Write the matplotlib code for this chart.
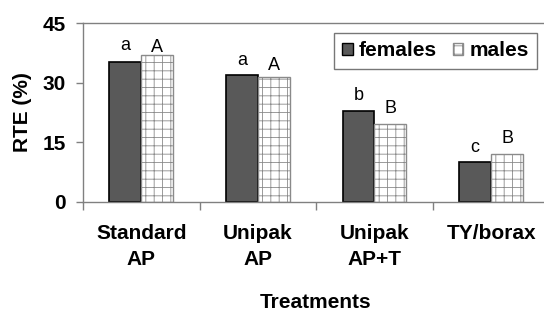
import numpy as np
import matplotlib
matplotlib.use('Agg')
import matplotlib.pyplot as plt
from matplotlib.patches import Patch

plt.rcParams['font.family'] = ['Liberation Sans', 'DejaVu Sans']
plt.rcParams['hatch.linewidth'] = 0.6

# data
treatments = ['Standard\nAP', 'Unipak\nAP', 'Unipak\nAP+T', 'TY/borax']
females = [35.2, 31.9, 22.8, 10.1]
males = [36.9, 31.4, 19.7, 12.0]
female_letters = ['a', 'a', 'b', 'c']
male_letters = ['A', 'A', 'B', 'B']
# height (in RTE units) where each letter sits
female_letter_y = [38.3, 34.5, 25.7, 12.6]
male_letter_y = [37.8, 33.2, 22.4, 14.7]

fig = plt.figure(figsize=(5.44, 3.11), dpi=100)
ax = fig.add_axes([83 / 544, 109.3 / 311, 466.4 / 544, 178.4 / 311])

x = np.arange(len(treatments))
w = 0.274
b1 = ax.bar(x - w / 2, females, w, color='#595959', edgecolor='black', linewidth=1.2)
b2 = ax.bar(x + w / 2, males, w, color='white', edgecolor='#8a8a8a', hatch='++', linewidth=1.0)

for bars, letters, ys in [(b1, female_letters, female_letter_y), (b2, male_letters, male_letter_y)]:
    for bar, lab, yy in zip(bars, letters, ys):
        ax.text(bar.get_x() + bar.get_width() / 2, yy, lab, ha='center', va='baseline',
                fontsize=13)

ax.set_ylim(0, 45)
ax.set_xlim(-0.5, 3.5)
ax.set_yticks([0, 15, 30, 45])
ax.set_xticks(x)
ax.set_xticklabels(treatments, fontweight='bold', fontsize=15, linespacing=1.5)
ax.set_xticks(np.arange(len(treatments) + 1) - 0.5, minor=True)
ax.tick_params(axis='x', which='major', length=0, pad=16)
ax.tick_params(axis='x', which='minor', length=6, color='#808080', width=1)
ax.tick_params(axis='y', length=5, color='#808080', width=1, pad=7.5, labelsize=15)
for t in ax.get_yticklabels():
    t.set_fontweight('bold')

for s in ax.spines.values():
    s.set_color('#808080')
    s.set_linewidth(1)

fig.text(22 / 544, 1 - 112.5 / 311, 'RTE (%)', rotation=90, ha='center', va='center',
         fontweight='bold', fontsize=15)
fig.text(316 / 544, 1 - 308 / 311, 'Treatments', ha='center', va='baseline',
         fontweight='bold', fontsize=15)

handles = [Patch(facecolor='#595959', edgecolor='black', label='females'),
           Patch(facecolor='white', edgecolor='#8a8a8a', hatch='++', label='males')]
leg = fig.legend(handles=handles, loc='upper left', bbox_to_anchor=(334 / 544, 1 - 33 / 311),
                 ncol=2, frameon=True, fancybox=False, edgecolor='#555555',
                 prop={'weight': 'bold', 'size': 15}, handlelength=0.5, handleheight=0.5,
                 handletextpad=0.3, columnspacing=0.75, borderpad=0.4, borderaxespad=0)
leg.get_frame().set_linewidth(1)

fig.savefig('out.png', dpi=100)
